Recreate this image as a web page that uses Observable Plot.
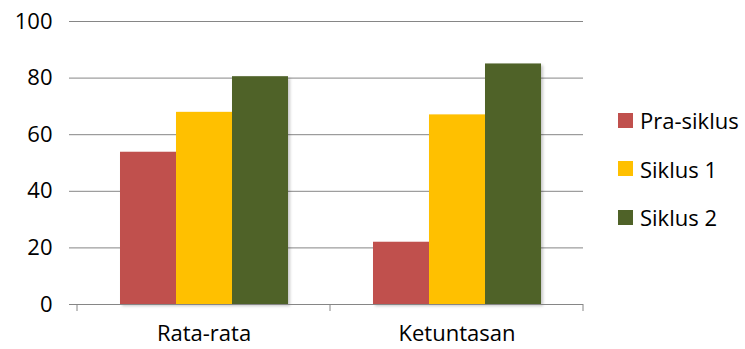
<!DOCTYPE html>
<html>
<head>
<meta charset="utf-8">
<script src="https://cdn.jsdelivr.net/npm/d3@7"></script>
<script src="https://cdn.jsdelivr.net/npm/@observablehq/plot@0.6"></script>
<style>
  html, body { margin: 0; padding: 0; background: #fff; }
  #wrap { position: relative; width: 745px; height: 349px; font-family: "Open Sans", sans-serif; }
  #legend { position: absolute; left: 618px; top: 105px; }
  .item { display: flex; align-items: center; height: 30px; line-height: 30px; margin-bottom: 18.5px; font-size: 22px; color: #000; white-space: nowrap; }
  .sw { width: 15px; height: 15px; margin-right: 7px; flex: none; }
</style>
</head>
<body>
<div id="wrap"></div>
<script>
const categories = ["Rata-rata", "Ketuntasan"];
const series = ["Pra-siklus", "Siklus 1", "Siklus 2"];
const praSiklus = [53.8, 22];
const siklus1 = [67.9, 67];
const siklus2 = [80.5, 85];
const colors = ["#C0504D", "#FFC000", "#4F6228"];
const yTicks = [0, 20, 40, 60, 80, 100];

const valuesBySeries = [praSiklus, siklus1, siklus2];
const data = [];
categories.forEach((c, i) => series.forEach((s, j) => data.push({category: c, series: s, value: valuesBySeries[j][i]})));

const grid = "#868686";
const plot = Plot.plot({
  width: 745,
  height: 349,
  marginLeft: 76,
  marginRight: 162,
  marginTop: 21,
  marginBottom: 45,
  style: {fontFamily: "'Open Sans', sans-serif", fontSize: "22px", color: "#000", background: "transparent", overflow: "visible"},
  fx: {domain: categories, padding: 0, label: null, axis: null},
  x: {domain: series, paddingInner: 0, paddingOuter: 0.735, axis: null},
  y: {domain: [0, 100], label: null, axis: null},
  color: {domain: series, range: colors},
  marks: [
    Plot.gridY(yTicks, {stroke: grid, strokeOpacity: 1, strokeWidth: 1}),
    Plot.axisY(yTicks, {tickSize: 8, tickPadding: 17, stroke: grid, strokeOpacity: 1, line: true, label: null, fontSize: 22, fill: "#000"}),
    Plot.barY(data, {fx: "category", x: "series", y: "value", fill: "series", inset: 0}),
    Plot.ruleY([0], {stroke: grid, strokeWidth: 1}),
    Plot.axisFx({anchor: "bottom", tickSize: 0, tickPadding: 21, label: null, fontSize: 22, fill: "#000"})
  ]
});

const svg = d3.select(plot);
svg.selectAll("g[aria-label='bar']").style("filter", "drop-shadow(2px 2px 1.5px rgba(0,0,0,0.22))");

// category separator ticks at band edges of fx
const fx = plot.scale("fx");
const ys = plot.scale("y");
const y0 = ys.apply(0);
const edges = categories.map(c => fx.apply(c));
edges.push(fx.apply(categories[categories.length - 1]) + fx.bandwidth);
svg.append("g").selectAll("line").data(edges).join("line")
  .attr("x1", d => d).attr("x2", d => d)
  .attr("y1", y0).attr("y2", y0 + 7)
  .attr("stroke", grid).attr("stroke-width", 1);

const wrap = document.getElementById("wrap");
wrap.appendChild(plot);

const legend = document.createElement("div");
legend.id = "legend";
series.forEach((s, i) => {
  const it = document.createElement("div");
  it.className = "item";
  it.innerHTML = `<span class="sw" style="background:${colors[i]}"></span><span>${s}</span>`;
  legend.appendChild(it);
});
wrap.appendChild(legend);
</script>
</body>
</html>
